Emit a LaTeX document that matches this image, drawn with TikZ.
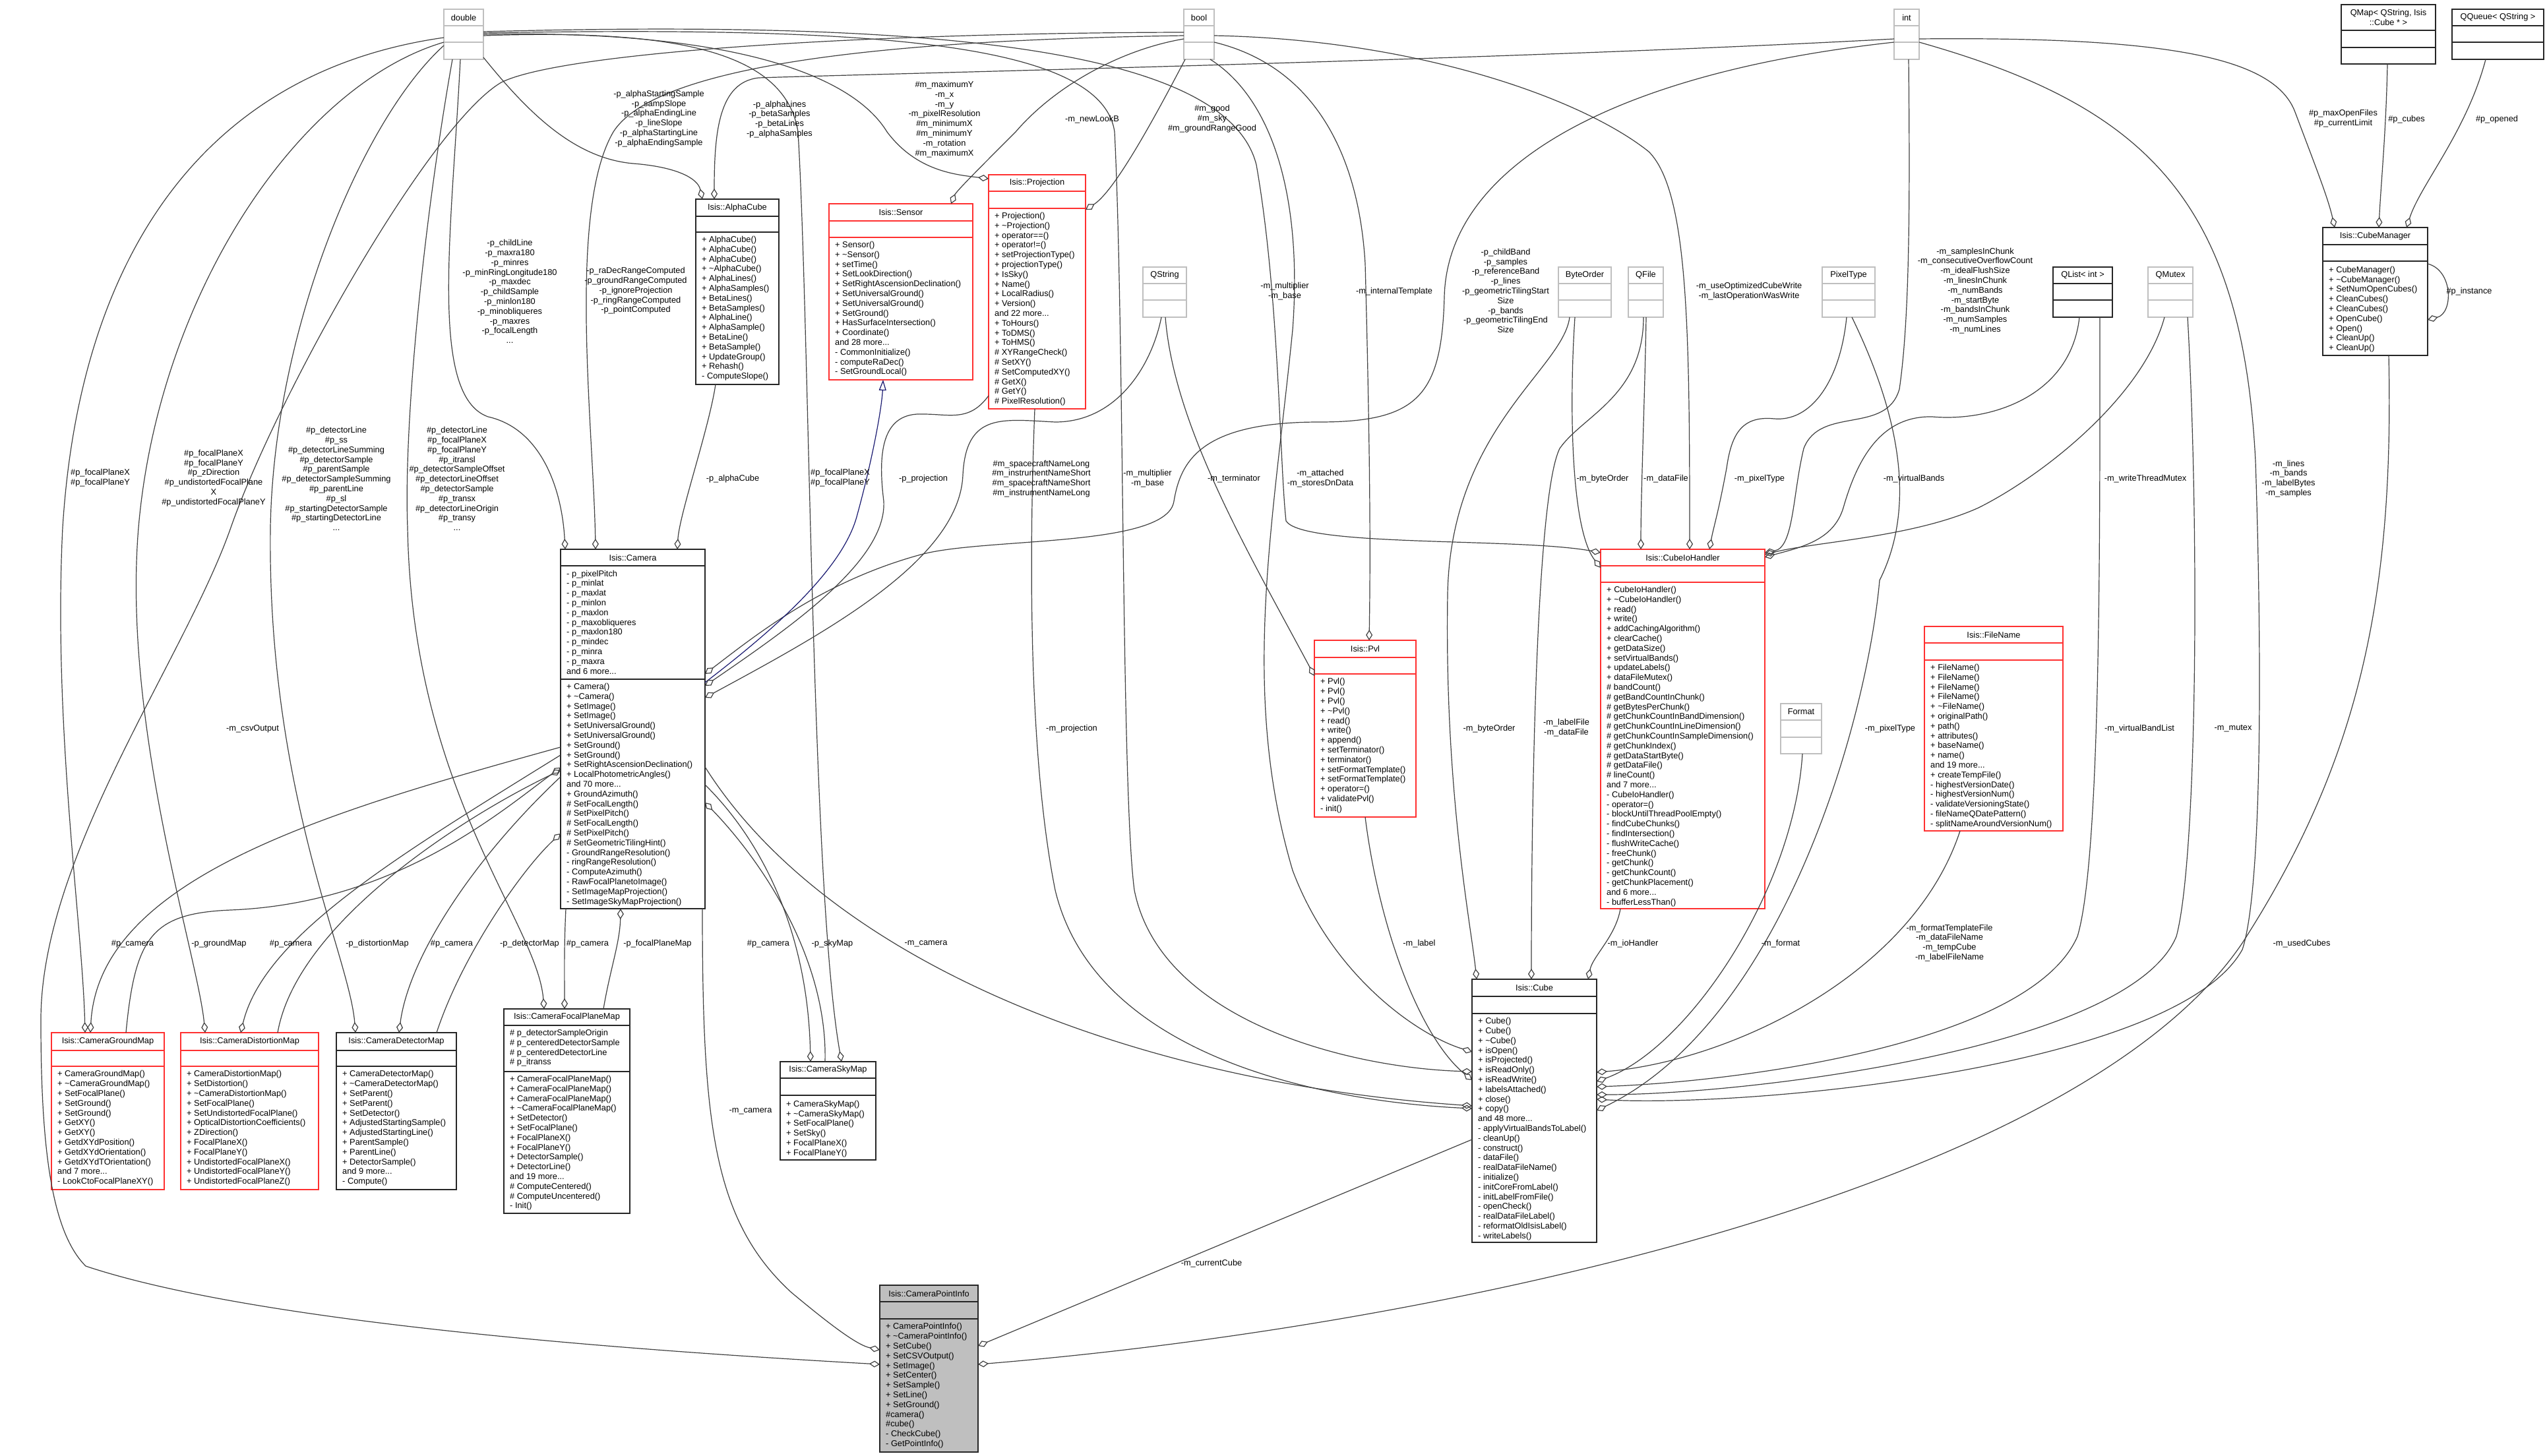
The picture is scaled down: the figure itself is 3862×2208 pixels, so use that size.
\documentclass[tikz,border=0pt]{standalone}
\usepackage{fontspec}
\setmainfont{Liberation Sans}
\usetikzlibrary{arrows.meta,calc}
\definecolor{lc}{HTML}{404040}
\definecolor{bgray}{HTML}{BFBFBF}
\definecolor{bred}{HTML}{FF3030}
\definecolor{inhblue}{HTML}{191970}
\newcommand\TLD{\textasciitilde}
\newcommand\fnt{\fontsize{12.8pt}{14.8pt}\selectfont}
\newcommand\ubox[9]{%
  \node[#2, minimum width=#5pt, minimum height=#6pt, anchor=north west, inner sep=0pt, outer sep=0pt] (#1) at (#3,#4) {};
  \draw[#2] ($(#1.north west)+(0,#7)$) -- ($(#1.north east)+(0,#7)$);
  \draw[#2] ($(#1.north west)+(0,#7+#8)$) -- ($(#1.north east)+(0,#7+#8)$);
  \node[ttl] at ($(#1.north)+(0,#7/2)$) {#9};
}
\begin{document}
\begin{tikzpicture}[x=1pt,y=-1pt,
  gbox/.style={draw=bgray,fill=white,line width=1.5pt},
  kbox/.style={draw=black!85,fill=white,line width=1.5pt},
  rbox/.style={draw=bred,fill=white,line width=1.5pt},
  pbox/.style={draw=black!85,fill=bgray,line width=1.5pt},
  ttl/.style={font=\fnt, inner sep=0pt, align=center},
  mem/.style={font=\fnt, inner sep=0pt, align=left, anchor=north west},
  lbl/.style={font=\fnt, inner sep=0pt, align=center},
  agg/.style={draw=lc, line width=1.2pt, -{Diamond[open,length=16pt,width=10pt]}},
  inh/.style={draw=inhblue, line width=1.2pt, -{Triangle[open,length=16pt,width=11pt]}}]
\fill[white] (0,0) rectangle (3862,2208);
\useasboundingbox (0,0) rectangle (3862,2208);

% ---------------- boxes ----------------
\ubox{dbl}{gbox}{673}{14}{60}{76}{25}{25}{double}
\ubox{bool}{gbox}{1795}{14}{46}{76}{25}{25}{bool}
\ubox{int}{gbox}{2872}{14}{38}{76}{25}{25}{int}
\ubox{qmap}{kbox}{3550}{7}{143}{90}{39}{26}{QMap< QString, Isis\\::Cube * >}
\ubox{qqueue}{kbox}{3718}{14}{139}{76}{25}{25}{QQueue< QString >}
\ubox{alpha}{kbox}{1055}{302}{126}{281}{26}{24}{Isis::AlphaCube}
\ubox{sensor}{rbox}{1257}{309}{218}{267}{26}{25}{Isis::Sensor}
\ubox{proj}{rbox}{1499}{265}{147}{355}{25}{26}{Isis::Projection}
\ubox{qstring}{gbox}{1733}{405}{66}{76}{25}{25}{QString}
\ubox{byteorder}{gbox}{2363}{405}{80}{76}{25}{25}{ByteOrder}
\ubox{qfile}{gbox}{2469}{405}{53}{76}{25}{25}{QFile}
\ubox{pixeltype}{gbox}{2763}{405}{80}{76}{25}{25}{PixelType}
\ubox{qlist}{kbox}{3113}{405}{90}{76}{25}{25}{QList< int >}
\ubox{qmutex}{gbox}{3257}{405}{68}{76}{25}{25}{QMutex}
\ubox{cubemgr}{kbox}{3522}{345}{159}{194}{26}{25}{Isis::CubeManager}
\ubox{cam}{kbox}{850}{833}{219}{545}{25}{172}{Isis::Camera}
\ubox{cubeio}{rbox}{2427}{833}{249}{545}{25}{25}{Isis::CubeIoHandler}
\ubox{pvl}{rbox}{1993}{971}{154}{268}{26}{25}{Isis::Pvl}
\ubox{filename}{rbox}{2918}{950}{210}{310}{25}{26}{Isis::FileName}
\ubox{format}{gbox}{2700}{1067}{62}{76}{25}{26}{Format}
\ubox{cgm}{rbox}{78}{1566}{171}{238}{27}{24}{Isis::CameraGroundMap}
\ubox{cdistm}{rbox}{274}{1566}{209}{238}{27}{24}{Isis::CameraDistortionMap}
\ubox{cdetm}{kbox}{510}{1566}{182}{238}{27}{24}{Isis::CameraDetectorMap}
\ubox{cfpm}{kbox}{764}{1530}{191}{310}{25}{70}{Isis::CameraFocalPlaneMap}
\ubox{cskym}{kbox}{1183}{1610}{145}{149}{25}{26}{Isis::CameraSkyMap}
\ubox{cube}{kbox}{2232}{1485}{189}{399}{26}{26}{Isis::Cube}
\ubox{cpi}{pbox}{1334}{1949}{149}{253}{25}{26}{Isis::CameraPointInfo}

% ---------------- members ----------------
\node[mem] at ($(alpha.north west)+(9,55)$) {\strut + AlphaCube()\\+ AlphaCube()\\+ AlphaCube()\\+ \TLD AlphaCube()\\+ AlphaLines()\\+ AlphaSamples()\\+ BetaLines()\\+ BetaSamples()\\+ AlphaLine()\\+ AlphaSample()\\+ BetaLine()\\+ BetaSample()\\+ UpdateGroup()\\+ Rehash()\\- ComputeSlope()};
\node[mem] at ($(sensor.north west)+(9,56)$) {\strut + Sensor()\\+ \TLD Sensor()\\+ setTime()\\+ SetLookDirection()\\+ SetRightAscensionDeclination()\\+ SetUniversalGround()\\+ SetUniversalGround()\\+ SetGround()\\+ HasSurfaceIntersection()\\+ Coordinate()\\and 28 more...\\- CommonInitialize()\\- computeRaDec()\\- SetGroundLocal()};
\node[mem] at ($(proj.north west)+(9,56)$) {\strut + Projection()\\+ \TLD Projection()\\+ operator==()\\+ operator!=()\\+ setProjectionType()\\+ projectionType()\\+ IsSky()\\+ Name()\\+ LocalRadius()\\+ Version()\\and 22 more...\\+ ToHours()\\+ ToDMS()\\+ ToHMS()\\\# XYRangeCheck()\\\# SetXY()\\\# SetComputedXY()\\\# GetX()\\\# GetY()\\\# PixelResolution()};
\node[mem] at ($(cubemgr.north west)+(9,57)$) {\fontsize{12.8pt}{15.8pt}\selectfont\strut + CubeManager()\\+ \TLD CubeManager()\\+ SetNumOpenCubes()\\+ CleanCubes()\\+ CleanCubes()\\+ OpenCube()\\+ Open()\\+ CleanUp()\\+ CleanUp()};
\node[mem] at ($(cam.north west)+(9,30)$) {\fontsize{12.8pt}{15.5pt}\selectfont\strut - p\_pixelPitch\\- p\_minlat\\- p\_maxlat\\- p\_minlon\\- p\_maxlon\\- p\_maxobliqueres\\- p\_maxlon180\\- p\_mindec\\- p\_minra\\- p\_maxra\\and 6 more...};
\node[mem] at ($(cam.north west)+(9,202)$) {\strut + Camera()\\+ \TLD Camera()\\+ SetImage()\\+ SetImage()\\+ SetUniversalGround()\\+ SetUniversalGround()\\+ SetGround()\\+ SetGround()\\+ SetRightAscensionDeclination()\\+ LocalPhotometricAngles()\\and 70 more...\\+ GroundAzimuth()\\\# SetFocalLength()\\\# SetPixelPitch()\\\# SetFocalLength()\\\# SetPixelPitch()\\\# SetGeometricTilingHint()\\- GroundRangeResolution()\\- ringRangeResolution()\\- ComputeAzimuth()\\- RawFocalPlanetoImage()\\- SetImageMapProjection()\\- SetImageSkyMapProjection()};
\node[mem] at ($(cubeio.north west)+(9,55)$) {\strut + CubeIoHandler()\\+ \TLD CubeIoHandler()\\+ read()\\+ write()\\+ addCachingAlgorithm()\\+ clearCache()\\+ getDataSize()\\+ setVirtualBands()\\+ updateLabels()\\+ dataFileMutex()\\\# bandCount()\\\# getBandCountInChunk()\\\# getBytesPerChunk()\\\# getChunkCountInBandDimension()\\\# getChunkCountInLineDimension()\\\# getChunkCountInSampleDimension()\\\# getChunkIndex()\\\# getDataStartByte()\\\# getDataFile()\\\# lineCount()\\and 7 more...\\- CubeIoHandler()\\- operator=()\\- blockUntilThreadPoolEmpty()\\- findCubeChunks()\\- findIntersection()\\- flushWriteCache()\\- freeChunk()\\- getChunk()\\- getChunkCount()\\- getChunkPlacement()\\and 6 more...\\- bufferLessThan()};
\node[mem] at ($(pvl.north west)+(9,56)$) {\fontsize{12.8pt}{15.2pt}\selectfont\strut + Pvl()\\+ Pvl()\\+ Pvl()\\+ \TLD Pvl()\\+ read()\\+ write()\\+ append()\\+ setTerminator()\\+ terminator()\\+ setFormatTemplate()\\+ setFormatTemplate()\\+ operator=()\\+ validatePvl()\\- init()};
\node[mem] at ($(filename.north west)+(9,56)$) {\strut + FileName()\\+ FileName()\\+ FileName()\\+ FileName()\\+ \TLD FileName()\\+ originalPath()\\+ path()\\+ attributes()\\+ baseName()\\+ name()\\and 19 more...\\+ createTempFile()\\- highestVersionDate()\\- highestVersionNum()\\- validateVersioningState()\\- fileNameQDatePattern()\\- splitNameAroundVersionNum()};
\node[mem] at ($(cgm.north west)+(9,56)$) {\fontsize{12.8pt}{15.2pt}\selectfont\strut + CameraGroundMap()\\+ \TLD CameraGroundMap()\\+ SetFocalPlane()\\+ SetGround()\\+ SetGround()\\+ GetXY()\\+ GetXY()\\+ GetdXYdPosition()\\+ GetdXYdOrientation()\\+ GetdXYdTOrientation()\\and 7 more...\\- LookCtoFocalPlaneXY()};
\node[mem] at ($(cdistm.north west)+(9,56)$) {\fontsize{12.8pt}{15.2pt}\selectfont\strut + CameraDistortionMap()\\+ SetDistortion()\\+ \TLD CameraDistortionMap()\\+ SetFocalPlane()\\+ SetUndistortedFocalPlane()\\+ OpticalDistortionCoefficients()\\+ ZDirection()\\+ FocalPlaneX()\\+ FocalPlaneY()\\+ UndistortedFocalPlaneX()\\+ UndistortedFocalPlaneY()\\+ UndistortedFocalPlaneZ()};
\node[mem] at ($(cdetm.north west)+(9,56)$) {\fontsize{12.8pt}{15.2pt}\selectfont\strut + CameraDetectorMap()\\+ \TLD CameraDetectorMap()\\+ SetParent()\\+ SetParent()\\+ SetDetector()\\+ AdjustedStartingSample()\\+ AdjustedStartingLine()\\+ ParentSample()\\+ ParentLine()\\+ DetectorSample()\\and 9 more...\\- Compute()};
\node[mem] at ($(cfpm.north west)+(9,30)$) {\strut \# p\_detectorSampleOrigin\\\# p\_centeredDetectorSample\\\# p\_centeredDetectorLine\\\# p\_itranss};
\node[mem] at ($(cfpm.north west)+(9,100)$) {\strut + CameraFocalPlaneMap()\\+ CameraFocalPlaneMap()\\+ CameraFocalPlaneMap()\\+ \TLD CameraFocalPlaneMap()\\+ SetDetector()\\+ SetFocalPlane()\\+ FocalPlaneX()\\+ FocalPlaneY()\\+ DetectorSample()\\+ DetectorLine()\\and 19 more...\\\# ComputeCentered()\\\# ComputeUncentered()\\- Init()};
\node[mem] at ($(cskym.north west)+(9,57)$) {\fontsize{12.8pt}{15.8pt}\selectfont\strut + CameraSkyMap()\\+ \TLD CameraSkyMap()\\+ SetFocalPlane()\\+ SetSky()\\+ FocalPlaneX()\\+ FocalPlaneY()};
\node[mem] at ($(cube.north west)+(9,57)$) {\fontsize{12.8pt}{15pt}\selectfont\strut + Cube()\\+ Cube()\\+ \TLD Cube()\\+ isOpen()\\+ isProjected()\\+ isReadOnly()\\+ isReadWrite()\\+ labelsAttached()\\+ close()\\+ copy()\\and 48 more...\\- applyVirtualBandsToLabel()\\- cleanUp()\\- construct()\\- dataFile()\\- realDataFileName()\\- initialize()\\- initCoreFromLabel()\\- initLabelFromFile()\\- openCheck()\\- realDataFileLabel()\\- reformatOldIsisLabel()\\- writeLabels()};
\node[mem] at ($(cpi.north west)+(9,56)$) {\fontsize{12.8pt}{15.2pt}\selectfont\strut + CameraPointInfo()\\+ \TLD CameraPointInfo()\\+ SetCube()\\+ SetCSVOutput()\\+ SetImage()\\+ SetCenter()\\+ SetSample()\\+ SetLine()\\+ SetGround()\\\#camera()\\\#cube()\\- CheckCube()\\- GetPointInfo()};

% ---------------- edges from double ----------------
\draw[agg] ($(dbl.north west)+(60,73)$) .. controls (800,170) and (870,240) .. (960,248) .. controls (1025,253) and (1058,270) .. ($(alpha.north west)+(10,0)$);
\draw[agg] ($(dbl.north west)+(25,76)$) .. controls (685,350) and (650,600) .. (740,632) .. controls (820,650) and (852,740) .. ($(cam.north west)+(7,0)$);
\draw[agg] ($(dbl.north west)+(0,43)$) .. controls (300,110) and (120,400) .. (95,800) .. controls (80,1100) and (125,1400) .. ($(cgm.north west)+(51,0)$);
\draw[agg] ($(dbl.north west)+(0,50)$) .. controls (450,130) and (240,450) .. (210,800) .. controls (185,1100) and (300,1450) .. ($(cdistm.north west)+(37,0)$);
\draw[agg] ($(dbl.north west)+(0,55)$) .. controls (550,180) and (415,500) .. (410,800) .. controls (405,1200) and (530,1450) .. ($(cdetm.north west)+(29,0)$);
\draw[agg] ($(dbl.north west)+(13,76)$) .. controls (640,350) and (612,650) .. (618,800) .. controls (625,1200) and (815,1400) .. ($(cfpm.north west)+(61,0)$);
\draw[agg] ($(dbl.north west)+(60,40)$) .. controls (1000,45) and (1190,70) .. (1210,200) .. controls (1228,500) and (1230,1350) .. ($(cskym.north west)+(93,0)$);
\draw[agg] ($(dbl.north west)+(60,38)$) .. controls (1100,45) and (1290,110) .. (1345,200) .. controls (1390,260) and (1450,265) .. ($(proj.north west)+(0,6)$);
\draw[agg] ($(dbl.north west)+(60,36)$) .. controls (1300,40) and (1670,60) .. (1690,200) .. controls (1705,500) and (1700,1200) .. (1720,1350) .. controls (1760,1550) and (2050,1620) .. ($(cube.north west)+(0,140)$);
\draw[agg] ($(dbl.north west)+(60,34)$) .. controls (1400,30) and (1860,70) .. (1905,250) .. controls (1940,450) and (1940,700) .. (1950,790) .. controls (1975,830) and (2300,815) .. ($(cubeio.north west)+(0,5)$);

% ---------------- edges from int ----------------
\draw[agg] ($(int.north west)+(0,45)$) .. controls (2300,90) and (1400,110) .. (1150,118) .. controls (1090,125) and (1083,200) .. ($(alpha.north west)+(28,0)$);
\draw[agg] ($(int.north west)+(0,50)$) .. controls (2450,110) and (2195,250) .. (2190,450) .. controls (2186,600) and (2150,640) .. (2000,640) .. controls (1820,640) and (1790,700) .. (1780,760) .. controls (1770,830) and (1500,815) .. (1400,840) .. controls (1250,880) and (1150,960) .. ($(cam.north west)+(219,189)$);
\draw[agg] ($(int.north west)+(22,76)$) .. controls (2896,300) and (2896,480) .. (2880,590) .. controls (2860,660) and (2760,615) .. (2735,680) .. controls (2718,750) and (2720,830) .. ($(cubeio.north west)+(249,5)$);
\draw[agg] ($(int.north west)+(38,45)$) .. controls (3300,55) and (3450,90) .. (3480,170) .. controls (3510,250) and (3530,300) .. ($(cubemgr.north west)+(18,0)$);
\draw[agg] ($(int.north west)+(38,50)$) .. controls (3250,160) and (3400,300) .. (3420,700) .. controls (3430,1000) and (3430,1350) .. (3400,1440) .. controls (3300,1620) and (2650,1680) .. ($(cube.north west)+(189,182)$);

% ---------------- edges from bool ----------------
\draw[agg] ($(bool.north west)+(0,40)$) .. controls (1400,60) and (1000,90) .. (930,200) .. controls (860,320) and (900,650) .. ($(cam.north west)+(53,0)$);
\draw[agg] ($(bool.north west)+(0,45)$) .. controls (1700,75) and (1600,130) .. (1540,200) .. controls (1490,250) and (1450,290) .. ($(sensor.north west)+(185,0)$);
\draw[agg] ($(bool.north west)+(2,76)$) .. controls (1750,180) and (1690,290) .. ($(proj.north west)+(147,53)$);
\draw[agg] ($(bool.north west)+(46,50)$) .. controls (1990,100) and (2060,230) .. (2070,400) .. controls (2078,700) and (2078,850) .. ($(pvl.north west)+(83,0)$);
\draw[agg] ($(bool.north west)+(40,76)$) .. controls (1930,150) and (1975,300) .. (1960,500) .. controls (1930,800) and (1880,1050) .. (1960,1320) .. controls (2020,1480) and (2150,1570) .. ($(cube.north west)+(0,110)$);
\draw[agg] ($(bool.north west)+(46,40)$) .. controls (2150,60) and (2400,150) .. (2500,230) .. controls (2560,290) and (2562,500) .. ($(cubeio.north west)+(135,0)$);
\draw[agg] ($(bool.north west)+(0,35)$) .. controls (1300,50) and (850,80) .. (760,125) .. controls (650,190) and (420,600) .. (350,800) .. controls (280,1000) and (60,1300) .. (62,1550) .. controls (62,1750) and (80,1870) .. (130,1920) .. controls (400,2010) and (1000,2050) .. ($(cpi.north west)+(0,120)$);

% ---------------- other edges ----------------
\draw[agg] ($(alpha.north west)+(30,281)$) .. controls (1075,650) and (1030,780) .. ($(cam.north west)+(177,0)$);
\draw[inh] ($(cam.north west)+(219,202)$) .. controls (1180,950) and (1280,860) .. (1300,780) .. controls (1322,700) and (1337,620) .. ($(sensor.north west)+(82,267)$);
\draw[agg] ($(proj.north west)+(0,335)$) .. controls (1470,640) and (1440,628) .. (1400,628) .. controls (1340,625) and (1330,680) .. (1340,760) .. controls (1345,850) and (1200,950) .. ($(cam.north west)+(219,207)$);
\draw[agg] ($(qstring.north west)+(28,76)$) .. controls (1745,560) and (1690,640) .. (1600,640) .. controls (1520,636) and (1465,625) .. (1460,720) .. controls (1455,850) and (1250,960) .. ($(cam.north west)+(219,225)$);
\draw[agg] ($(qstring.north west)+(34,76)$) .. controls (1780,650) and (1900,850) .. ($(pvl.north west)+(0,54)$);
\draw[agg] ($(cam.north west)+(0,300)$) .. controls (500,1230) and (150,1330) .. ($(cgm.north west)+(59,0)$);
\draw[agg] ($(cgm.north west)+(113,0)$) .. controls (205,1420) and (230,1385) .. (350,1380) .. controls (600,1370) and (760,1230) .. ($(cam.north west)+(0,331)$);
\draw[agg] ($(cam.north west)+(0,312)$) .. controls (600,1300) and (400,1420) .. ($(cdistm.north west)+(91,0)$);
\draw[agg] ($(cdistm.north west)+(147,0)$) .. controls (450,1400) and (700,1240) .. ($(cam.north west)+(0,335)$);
\draw[agg] ($(cam.north west)+(0,345)$) .. controls (720,1300) and (620,1450) .. ($(cdetm.north west)+(95,0)$);
\draw[agg] ($(cdetm.north west)+(152,0)$) .. controls (700,1450) and (790,1320) .. ($(cam.north west)+(0,431)$);
\draw[agg] ($(cam.north west)+(8,545)$) .. controls (855,1440) and (856,1480) .. ($(cfpm.north west)+(92,0)$);
\draw[agg] ($(cfpm.north west)+(151,0)$) .. controls (925,1470) and (940,1430) .. ($(cam.north west)+(91,545)$);
\draw[agg] ($(cam.north west)+(219,357)$) .. controls (1160,1280) and (1225,1420) .. ($(cskym.north west)+(46,0)$);
\draw[agg] ($(cskym.north west)+(68,0)$) .. controls (1255,1450) and (1150,1300) .. ($(cam.north west)+(219,384)$);
\draw[agg] ($(cam.north west)+(215,545)$) .. controls (1065,1700) and (1080,1850) .. (1200,1960) .. controls (1260,2010) and (1300,2040) .. ($(cpi.north west)+(0,98)$);
\draw[agg] ($(cam.north west)+(219,330)$) .. controls (1250,1450) and (1700,1640) .. ($(cube.north west)+(0,192)$);
\draw[agg] ($(proj.north west)+(70,355)$) .. controls (1560,850) and (1560,1150) .. (1600,1350) .. controls (1660,1600) and (2000,1670) .. ($(cube.north west)+(0,196)$);
\draw[agg] ($(pvl.north west)+(77,268)$) .. controls (2090,1400) and (2150,1570) .. ($(cube.north west)+(0,153)$);
\draw[agg] ($(byteorder.north west)+(17,76)$) .. controls (2370,560) and (2200,650) .. (2195,900) .. controls (2190,1200) and (2230,1400) .. ($(cube.north west)+(7,0)$);
\draw[agg] ($(qfile.north west)+(23,76)$) .. controls (2492,600) and (2400,630) .. (2365,680) .. controls (2330,750) and (2322,1200) .. ($(cube.north west)+(90,0)$);
\draw[agg] ($(qfile.north west)+(27,76)$) .. controls (2494,600) and (2488,750) .. ($(cubeio.north west)+(61,0)$);
\draw[agg] ($(byteorder.north west)+(25,76)$) .. controls (2380,600) and (2380,800) .. ($(cubeio.north west)+(0,28)$);
\draw[agg] ($(cubeio.north west)+(30,545)$) .. controls (2450,1420) and (2415,1450) .. ($(cube.north west)+(176,0)$);
\draw[agg] ($(pixeltype.north west)+(37,76)$) .. controls (2790,580) and (2745,640) .. (2690,635) .. controls (2640,630) and (2625,660) .. (2618,710) .. controls (2605,780) and (2598,800) .. ($(cubeio.north west)+(165,0)$);
\draw[agg] ($(pixeltype.north west)+(45,76)$) .. controls (2890,650) and (2900,780) .. (2850,880) .. controls (2830,1100) and (2700,1550) .. ($(cube.north west)+(189,199)$);
\draw[agg] ($(qlist.north west)+(40,76)$) .. controls (3140,600) and (3020,640) .. (2930,632) .. controls (2850,630) and (2815,700) .. (2795,770) .. controls (2780,820) and (2730,830) .. ($(cubeio.north west)+(249,12)$);
\draw[agg] ($(qlist.north west)+(71,76)$) .. controls (3184,800) and (3186,1300) .. (3150,1420) .. controls (3080,1580) and (2650,1640) .. ($(cube.north west)+(189,163)$);
\draw[agg] ($(qmutex.north west)+(25,76)$) .. controls (3250,600) and (3100,720) .. (3000,770) .. controls (2900,815) and (2750,822) .. ($(cubeio.north west)+(249,8)$);
\draw[agg] ($(qmutex.north west)+(60,76)$) .. controls (3335,800) and (3332,1300) .. (3300,1420) .. controls (3230,1590) and (2650,1660) .. ($(cube.north west)+(189,175)$);
\draw[agg] ($(filename.north west)+(54,310)$) .. controls (2900,1480) and (2620,1610) .. ($(cube.north west)+(189,141)$);
\draw[agg] ($(format.north west)+(33,76)$) .. controls (2720,1350) and (2560,1590) .. ($(cube.north west)+(189,155)$);
\draw[agg] ($(cubemgr.north west)+(100,194)$) .. controls (3630,900) and (3580,1150) .. (3400,1430) .. controls (3150,1800) and (2200,2010) .. ($(cpi.north west)+(149,120)$);
\draw[agg] ($(cube.north west)+(0,243)$) -- ($(cpi.north west)+(149,92)$);
\draw[agg] ($(qmap.north west)+(70,90)$) .. controls (3618,200) and (3610,280) .. ($(cubemgr.north west)+(85,0)$);
\draw[agg] ($(qqueue.north west)+(51,76)$) .. controls (3740,200) and (3670,280) .. ($(cubemgr.north west)+(127,0)$);
\draw[agg] ($(cubemgr.north west)+(159,55)$) .. controls (3720,410) and (3720,475) .. ($(cubemgr.north west)+(159,140)$);

% ---------------- labels ----------------
\node[lbl] at (999,180) {-p\_alphaStartingSample\\-p\_sampSlope\\-p\_alphaEndingLine\\-p\_lineSlope\\-p\_alphaStartingLine\\-p\_alphaEndingSample};
\node[lbl] at (1182,181) {-p\_alphaLines\\-p\_betaSamples\\-p\_betaLines\\-p\_alphaSamples};
\node[lbl] at (773,442) {-p\_childLine\\-p\_maxra180\\-p\_minres\\-p\_minRingLongitude180\\-p\_maxdec\\-p\_childSample\\-p\_minlon180\\-p\_minobliqueres\\-p\_maxres\\-p\_focalLength\\...};
\node[lbl] at (964,441) {-p\_raDecRangeComputed\\-p\_groundRangeComputed\\-p\_ignoreProjection\\-p\_ringRangeComputed\\-p\_pointComputed};
\node[lbl] at (510,726) {\#p\_detectorLine\\\#p\_ss\\\#p\_detectorLineSumming\\\#p\_detectorSample\\\#p\_parentSample\\\#p\_detectorSampleSumming\\\#p\_parentLine\\\#p\_sl\\\#p\_startingDetectorSample\\\#p\_startingDetectorLine\\...};
\node[lbl] at (693,726) {\#p\_detectorLine\\\#p\_focalPlaneX\\\#p\_focalPlaneY\\\#p\_itransl\\\#p\_detectorSampleOffset\\\#p\_detectorLineOffset\\\#p\_detectorSample\\\#p\_transx\\\#p\_detectorLineOrigin\\\#p\_transy\\...};
\node[lbl] at (324,725) {\#p\_focalPlaneX\\\#p\_focalPlaneY\\\#p\_zDirection\\\#p\_undistortedFocalPlane\\X\\\#p\_undistortedFocalPlaneY};
\node[lbl] at (152,725) {\#p\_focalPlaneX\\\#p\_focalPlaneY};
\node[lbl] at (1111,726) {-p\_alphaCube};
\node[lbl] at (1274,725) {\#p\_focalPlaneX\\\#p\_focalPlaneY};
\node[lbl] at (1400,726) {-p\_projection};
\node[lbl] at (1579,726) {\#m\_spacecraftNameLong\\\#m\_instrumentNameShort\\\#m\_spacecraftNameShort\\\#m\_instrumentNameLong};
\node[lbl] at (1740,726) {-m\_multiplier\\-m\_base};
\node[lbl] at (1871,726) {-m\_terminator};
\node[lbl] at (2002,726) {-m\_attached\\-m\_storesDnData};
\node[lbl] at (2430,726) {-m\_byteOrder};
\node[lbl] at (2526,726) {-m\_dataFile};
\node[lbl] at (2668,726) {-m\_pixelType};
\node[lbl] at (2902,726) {-m\_virtualBands};
\node[lbl] at (3253,726) {-m\_writeThreadMutex};
\node[lbl] at (3470,726) {-m\_lines\\-m\_bands\\-m\_labelBytes\\-m\_samples};
\node[lbl] at (1432,181) {\#m\_maximumY\\-m\_x\\-m\_y\\-m\_pixelResolution\\\#m\_minimumX\\\#m\_minimumY\\-m\_rotation\\\#m\_maximumX};
\node[lbl] at (1656,181) {-m\_newLookB};
\node[lbl] at (1838,180) {\#m\_good\\\#m\_sky\\\#m\_groundRangeGood};
\node[lbl] at (1948,442) {-m\_multiplier\\-m\_base};
\node[lbl] at (2114,442) {-m\_internalTemplate};
\node[lbl] at (2283,441) {-p\_childBand\\-p\_samples\\-p\_referenceBand\\-p\_lines\\-p\_geometricTilingStart\\Size\\-p\_bands\\-p\_geometricTilingEnd\\Size};
\node[lbl] at (2652,442) {-m\_useOptimizedCubeWrite\\-m\_lastOperationWasWrite};
\node[lbl] at (2995,441) {-m\_samplesInChunk\\-m\_consecutiveOverflowCount\\-m\_idealFlushSize\\-m\_linesInChunk\\-m\_numBands\\-m\_startByte\\-m\_bandsInChunk\\-m\_numSamples\\-m\_numLines};
\node[lbl] at (3553,180) {\#p\_maxOpenFiles\\\#p\_currentLimit};
\node[lbl] at (3649,181) {\#p\_cubes};
\node[lbl] at (3786,181) {\#p\_opened};
\node[lbl] at (3744,442) {\#p\_instance};
\node[lbl] at (383,1105) {-m\_csvOutput};
\node[lbl] at (1625,1105) {-m\_projection};
\node[lbl] at (2258,1105) {-m\_byteOrder};
\node[lbl] at (2375,1104) {-m\_labelFile\\-m\_dataFile};
\node[lbl] at (2866,1105) {-m\_pixelType};
\node[lbl] at (3244,1105) {-m\_virtualBandList};
\node[lbl] at (3386,1105) {-m\_mutex};
\node[lbl] at (201,1431) {\#p\_camera};
\node[lbl] at (332,1431) {-p\_groundMap};
\node[lbl] at (441,1431) {\#p\_camera};
\node[lbl] at (572,1431) {-p\_distortionMap};
\node[lbl] at (685,1431) {\#p\_camera};
\node[lbl] at (803,1431) {-p\_detectorMap};
\node[lbl] at (891,1431) {\#p\_camera};
\node[lbl] at (997,1431) {-p\_focalPlaneMap};
\node[lbl] at (1165,1431) {\#p\_camera};
\node[lbl] at (1262,1431) {-p\_skyMap};
\node[lbl] at (1404,1431) {-m\_camera};
\node[lbl] at (2152,1431) {-m\_label};
\node[lbl] at (2476,1431) {-m\_ioHandler};
\node[lbl] at (2700,1431) {-m\_format};
\node[lbl] at (2956,1430) {-m\_formatTemplateFile\\-m\_dataFileName\\-m\_tempCube\\-m\_labelFileName};
\node[lbl] at (3490,1431) {-m\_usedCubes};
\node[lbl] at (1138,1685) {-m\_camera};
\node[lbl] at (1837,1916) {-m\_currentCube};
\end{tikzpicture}
\end{document}
